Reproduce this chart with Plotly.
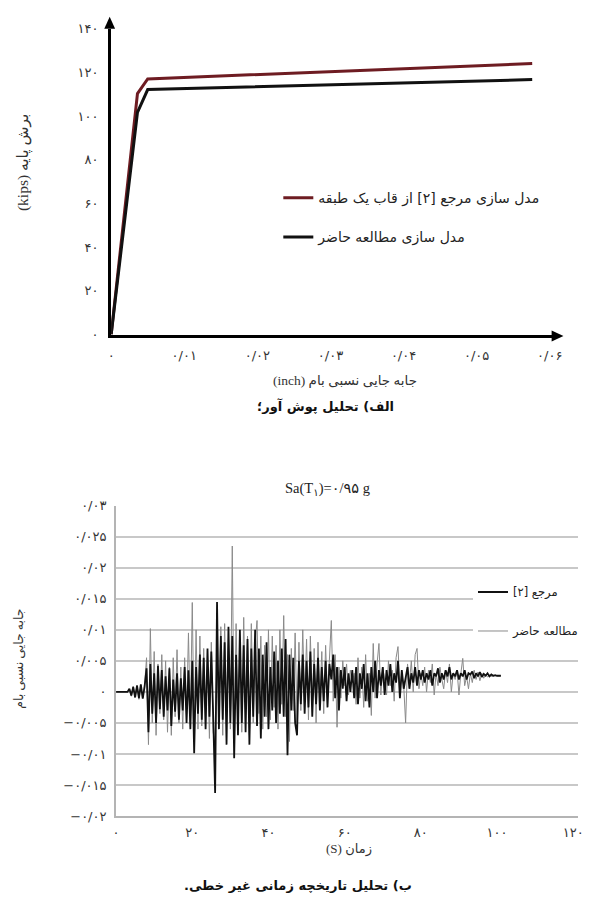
import plotly.graph_objects as go

# ---------------- Top panel: pushover analysis ----------------
push_disp_ref = [0, 0.0036, 0.0050, 0.0576]
push_shear_ref = [0, 110.3, 117.0, 124.0]
push_disp_cur = [0, 0.0036, 0.0050, 0.0576]
push_shear_cur = [0, 101.7, 112.1, 116.7]

top_xtick_vals = [0, 0.01, 0.02, 0.03, 0.04, 0.05, 0.06]
top_xtick_text = ["۰", "۰/۰۱", "۰/۰۲", "۰/۰۳", "۰/۰۴", "۰/۰۵", "۰/۰۶"]
top_ytick_vals = [0, 20, 40, 60, 80, 100, 120, 140]
top_ytick_text = ["۰", "۲۰", "۴۰", "۶۰", "۸۰", "۱۰۰", "۱۲۰", "۱۴۰"]
top_names = ["مدل سازی مرجع [۲] از قاب یک طبقه", "مدل سازی مطالعه حاضر"]

# ---------------- Bottom panel: time history (roof drift, in 1/1000) ----------------
th_step = 0.5  # seconds between samples
drift_ref_milli = [
    0, 0, 0, 0, 0, 0, 0,
    0.5, -0.6, 0.8, -0.9, 1.0, -1.0, 1.2, -1.1, 0.9,
    3.8, -6.5, 4.5, -3.5, 3.0, -5.0, 4.2, -2.8, 3.5, -4.0, 2.5, -3.0, 3.8, -5.5, 2.0, -3.2, 3.0, -4.5, 2.2,
    -3.0, 4.0, -5.0, 3.5, -6.0, 5.0, -9.9, 4.0, -3.5, 6.0, -4.5, 5.5, -6.0, 7.0, -4.0, 6.5,
    -4.0, -16.3, 14.5, -6.0, 9.0, -4.5, 8.0, -8.5, 10.5, -5.0, 9.0, -10.7,
    6.0, -7.0, 10.0, -5.0, 7.5, -6.5, 8.5, -8.5, 7.0, -4.0, 10.0, -5.5, 7.0, -7.5, 6.0, -4.0, 8.0, -6.0,
    4.0, -3.0, 6.5, -5.0, 5.0, -3.5, 7.0, -4.0, 8.5, -10.2, 6.0, -3.0, 5.5, -5.0, -7.0, 5.0,
    -2.0, 6.0, -3.5, 5.0, -2.5, 6.5, -4.0, 4.5, -2.0, 5.5, -3.0, 4.0, -1.5, 5.0, -2.5, 4.5,
    2.0, 6.0, -1.0, 4.0, -3.0, 3.5, 0.5, 4.0, -1.5, 3.0, 0.0, 3.5,
    -1.0, 4.0, -2.0, 3.0, 0.5, 4.5, -1.5, 3.0, -2.5, 4.0, 0.0, 5.0, -1.0, 3.5, 1.0, 4.0,
    -0.5, 3.5, 1.0, 4.5, 0.0, 3.0, 1.5, 5.0, -1.0, 3.5, 0.5, 2.0, 4.0, 0.5, 3.0, 1.5, 4.0, 1.0, 3.5, 2.0,
    3.5, 1.5, 3.0, 2.0, 3.5, 1.0, 3.0, 2.5, 3.8, 1.5, 3.0, 2.0, 3.5, 2.5, 4.0, 2.0, 3.0, 2.5, 3.5, 2.0,
    3.0, 2.5, 3.5, 2.0, 3.0, 2.8, 3.3, 2.2, 3.0, 2.5, 3.2, 2.4, 2.9, 2.6, 3.0, 2.5, 2.8, 2.6, 2.7, 2.6, 2.6, 2.6,
]
drift_cur_milli = [
    0, 0, 0, 0, 0, 0, 0,
    0.4, -0.7, 0.9, -0.8, 1.1, -1.2, 1.0, -1.0, 1.3,
    5.5, -8.5, 10.2, -5.0, 6.5, -7.0, 4.5, -3.5, 6.0, -4.5, 5.0, -6.5, 4.0, -7.0, 5.5, -4.0, 6.8, -5.0, 4.0,
    -6.0, 5.5, -4.0, 9.5, -5.0, 14.4, -7.5, 10.0, -6.0, 9.0, -5.5, 7.0, -4.5, 5.0, -7.5, 8.0,
    -6.5, -9.0, 7.0, -5.0, 10.5, -7.0, 11.0, -4.0, 8.0, -6.0, 23.5, -8.0,
    11.0, -4.0, 8.0, -6.5, 12.0, -3.0, 9.0, -7.0, 11.0, -5.0, 8.0, 11.5, -3.5, 9.0, -6.0, 7.5, -4.0, 10.0,
    -4.5, 9.0, -2.5, 7.5, -6.0, 10.0, -2.0, 12.3, -4.0, 6.0, -8.0, 7.0, -3.0, 9.5, -5.0, 8.0,
    -3.0, 10.0, -1.5, 8.5, -4.5, 9.0, -2.0, 7.0, -5.0, 8.0, -1.0, 6.5, -3.5, 7.5, -1.0, 6.0,
    11.5, -1.5, 6.0, -5.7, 4.0, -1.0, 5.0, 1.0, 4.5, -0.5, 3.5, 1.5,
    3.0, -2.0, 5.5, -1.0, 4.0, -2.5, 6.0, -1.5, 3.0, -3.8, 7.8, -1.0, 4.5, 7.8, -0.5, 4.0,
    2.0, -0.5, 5.0, 1.0, 3.5, -1.5, 5.5, 7.3, 0.5, 3.0, 1.0, -5.0, 4.5, 1.5, 5.0, 0.0, 6.0, 7.0, 0.5, 3.0,
    1.0, 4.0, 0.0, 3.5, 1.5, 4.5, -0.5, 3.0, 1.0, 4.0, 2.0, 0.5, 3.5, 1.5, 4.5, 0.0, 3.0, 2.0, 3.5, -0.5,
    3.0, 5.4, 1.0, 2.5, 0.5, 3.0, 1.5, 3.5, 2.0, 3.2, 1.8, 3.0, 2.2, 2.8, 2.4, 2.7, 2.5, 2.6, 2.6, 2.6, 2.6, 2.6,
]
bot_xtick_vals = [0, 20, 40, 60, 80, 100, 120]
bot_xtick_text = ["۰", "۲۰", "۴۰", "۶۰", "۸۰", "۱۰۰", "۱۲۰"]
bot_ytick_vals = [-0.02, -0.015, -0.01, -0.005, 0, 0.005, 0.01, 0.015, 0.02, 0.025, 0.03]
bot_ytick_text = ["−۰/۰۲", "−۰/۰۱۵", "−۰/۰۱", "−۰/۰۰۵", "۰", "۰/۰۰۵", "۰/۰۱", "۰/۰۱۵", "۰/۰۲", "۰/۰۲۵", "۰/۰۳"]
bot_names = ["مرجع [۲]\u200f", "مطالعه حاضر"]

time_ref = [k * th_step for k in range(len(drift_ref_milli))]
time_cur = [k * th_step for k in range(len(drift_cur_milli))]
drift_ref = [v / 1000 for v in drift_ref_milli]
drift_cur = [v / 1000 for v in drift_cur_milli]

W, H = 597, 915
FONT = "Liberation Serif, DejaVu Sans, serif"
TFONT = "DejaVu Sans, sans-serif"


def px(x):
    return x / W


def py(y):
    return (H - y) / H


fig = go.Figure()

fig.add_trace(go.Scatter(x=push_disp_ref, y=push_shear_ref, mode="lines", name=top_names[0],
                         line=dict(color="#6e1c22", width=3), xaxis="x", yaxis="y",
                         legend="legend", legendgroup="a", legendrank=1))
fig.add_trace(go.Scatter(x=push_disp_cur, y=push_shear_cur, mode="lines", name=top_names[1],
                         line=dict(color="#111111", width=3), xaxis="x", yaxis="y",
                         legend="legend", legendgroup="b", legendrank=2))

fig.add_trace(go.Scatter(x=time_cur, y=drift_cur, mode="lines", name=bot_names[1],
                         line=dict(color="#8a8a8a", width=1), xaxis="x2", yaxis="y2",
                         legend="legend2", legendgroup="d", legendrank=2))
fig.add_trace(go.Scatter(x=time_ref, y=drift_ref, mode="lines", name=bot_names[0],
                         line=dict(color="#111111", width=1.8), xaxis="x2", yaxis="y2",
                         legend="legend2", legendgroup="c", legendrank=1))

tickfont = dict(family=TFONT, size=13, color="#333333")

fig.update_layout(
    width=W, height=H,
    margin=dict(l=0, r=0, t=0, b=0),
    paper_bgcolor="white", plot_bgcolor="white",
    showlegend=True,
    xaxis=dict(domain=[px(110), px(562)], range=[0, 0.0608], anchor="y",
               tickvals=top_xtick_vals, ticktext=top_xtick_text, tickfont=tickfont,
               showline=True, linecolor="black", linewidth=3, showgrid=False, zeroline=False,
               ticks="", ticklabelstandoff=7),
    yaxis=dict(domain=[py(333), py(22)], range=[0, 140], anchor="x",
               tickvals=top_ytick_vals, ticktext=top_ytick_text, tickfont=tickfont,
               showline=True, linecolor="black", linewidth=3, showgrid=False, zeroline=False,
               ticks="", ticklabelstandoff=7),
    xaxis2=dict(domain=[px(115), px(585)], range=[0, 121.3], anchor="y2",
                tickvals=bot_xtick_vals, ticktext=bot_xtick_text, tickfont=tickfont,
                showline=True, linecolor="#b4b4b4", linewidth=2, showgrid=False, zeroline=False,
                ticks="", ticklabelstandoff=3),
    yaxis2=dict(domain=[py(822.5), py(507)], range=[-0.02, 0.03], anchor="x2",
                tickvals=bot_ytick_vals, ticktext=bot_ytick_text, tickfont=tickfont,
                showline=True, linecolor="#b4b4b4", linewidth=2, showgrid=True,
                gridcolor="#c8c8c8", gridwidth=1.5, zeroline=False,
                ticks="", ticklabelstandoff=5),
    legend=dict(x=px(280), y=py(178), xanchor="left", yanchor="top",
                bgcolor="rgba(255,255,255,0)", font=dict(family=TFONT, size=14, color="#222"),
                traceorder="grouped", tracegroupgap=18, itemwidth=30),
    legend2=dict(x=px(478), y=py(580), xanchor="left", yanchor="top",
                 bgcolor="white", font=dict(family=TFONT, size=11.5, color="#222"),
                 traceorder="grouped", tracegroupgap=20, itemwidth=30),
)

# arrowheads at the ends of the top panel axes (decoration, paper coords)
arrow_x = "M {} {} L {} {} L {} {} Z".format(px(570), py(334.5), px(558), py(329), px(558), py(340))
arrow_y = "M {} {} L {} {} L {} {} Z".format(px(108.5), py(10), px(103), py(22), px(114), py(22))
fig.update_layout(shapes=[
    dict(type="path", path=arrow_x, xref="paper", yref="paper", fillcolor="black", line=dict(width=0)),
    dict(type="path", path=arrow_y, xref="paper", yref="paper", fillcolor="black", line=dict(width=0)),
])


def note(x, y, text, size, family=FONT, color="#333", angle=0):
    return dict(x=px(x), y=py(y), xref="paper", yref="paper", text=text, textangle=angle,
                xanchor="center", yanchor="middle", showarrow=False,
                font=dict(family=family, size=size, color=color))


annotations = [
    note(21, 158, "\u202bبرش پایه (kips)\u202c", 15.5, angle=-90),
    note(348, 380, "\u202bجابه جایی نسبی بام (inch)\u202c", 13.5),
    note(328, 406, "<b>الف) تحلیل پوش آور؛</b>", 13, family=TFONT, color="#111"),
    note(330, 490, "Sa(T<sub>۱</sub>)=۰/۹۵ g", 14.5, color="#222"),
    note(16, 663, "جابه جایی نسبی بام", 12.5, angle=-90),
    note(352, 856, "\u202bزمان (S)\u202c", 13),
    note(300, 893, "<b>ب) تحلیل تاریخچه زمانی غیر خطی.\u200f</b>", 13, family=TFONT, color="#111"),
]
fig.update_layout(annotations=annotations)

fig.write_html("out.html")
